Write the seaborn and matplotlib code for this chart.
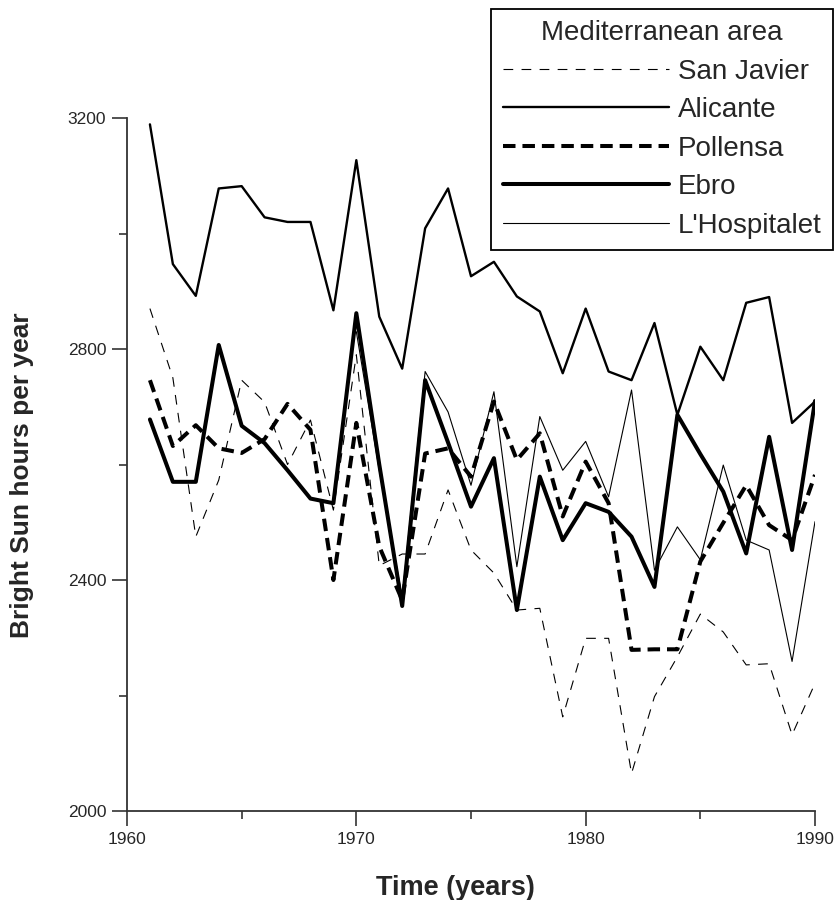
import numpy as np
import pandas as pd
import matplotlib
matplotlib.use("Agg")
import matplotlib.pyplot as plt
import seaborn as sns
from matplotlib.lines import Line2D
from matplotlib.ticker import MultipleLocator

years = list(range(1961, 1991))

san_javier = [2870, 2750, 2475, 2573, 2746, 2708, 2600, 2677, 2521, 2790,
              2425, 2445, 2445, 2556, 2452, 2412, 2348, 2351, 2163, 2299,
              2299, 2065, 2198, 2267, 2341, 2310, 2253, 2255, 2132, 2221]
alicante = [3189, 2947, 2892, 3078, 3082, 3028, 3020, 3020, 2867, 3127,
            2856, 2766, 3009, 3078, 2926, 2951, 2891, 2865, 2758, 2870,
            2761, 2746, 2845, 2686, 2804, 2746, 2880, 2890, 2672, 2709]
pollensa = [2746, 2632, 2668, 2628, 2620, 2644, 2705, 2660, 2400, 2672,
            2458, 2365, 2619, 2628, 2579, 2709, 2608, 2654, 2510, 2605,
            2533, 2279, 2280, 2280, 2432, 2499, 2564, 2495, 2469, 2582]
ebro = [2678, 2570, 2570, 2807, 2667, 2637, 2590, 2541, 2533, 2862,
        2600, 2355, 2746, 2638, 2527, 2611, 2348, 2579, 2469, 2533,
        2518, 2475, 2388, 2686, 2618, 2553, 2446, 2648, 2452, 2710]
hospitalet = [np.nan] * 9 + [2830,
              2590, 2370, 2761, 2691, 2564, 2726, 2423, 2683, 2590, 2640,
              2544, 2729, 2417, 2492, 2435, 2599, 2469, 2452, 2259, 2501]

series_names = ["San Javier", "Alicante", "Pollensa", "Ebro", "L'Hospitalet"]
series_values = [san_javier, alicante, pollensa, ebro, hospitalet]
legend_title = "Mediterranean area"

sns.set_style("white")
plt.rcParams["lines.scale_dashes"] = False
plt.rcParams["font.family"] = ["Liberation Sans", "DejaVu Sans"]

styles = {
    "San Javier": dict(lw=0.8, ls=(0, (7, 6))),
    "Alicante": dict(lw=1.7, ls="-"),
    "Pollensa": dict(lw=2.9, ls=(0, (9, 5))),
    "Ebro": dict(lw=2.9, ls="-"),
    "L'Hospitalet": dict(lw=0.8, ls="-"),
}

fig = plt.figure(figsize=(8.36, 9), dpi=100)
ax = fig.add_axes([127 / 836, 89 / 900, 688 / 836, 693 / 900])

handles = []
for name, vals in zip(series_names, series_values):
    st = styles[name]
    df = pd.DataFrame({"year": years, "value": vals})
    sns.lineplot(data=df, x="year", y="value", ax=ax, color="black",
                 linewidth=st["lw"], linestyle=st["ls"])
    handles.append(Line2D([0], [0], color="black", lw=st["lw"], ls=st["ls"]))

ax.set_xlim(1960, 1990)
ax.set_ylim(2000, 3200)
ax.xaxis.set_major_locator(MultipleLocator(10))
ax.xaxis.set_minor_locator(MultipleLocator(5))
ax.yaxis.set_major_locator(MultipleLocator(400))
ax.yaxis.set_minor_locator(MultipleLocator(200))

for s in ["top", "right"]:
    ax.spines[s].set_visible(False)
for s in ["left", "bottom"]:
    ax.spines[s].set_color("#333333")
    ax.spines[s].set_linewidth(1.3)

ax.tick_params(axis="both", which="both", bottom=True, left=True,
               top=False, right=False)
ax.tick_params(axis="both", which="major", direction="out", length=11,
               width=1.2, color="#333333", labelsize=12.5, pad=4)
ax.tick_params(axis="both", which="minor", direction="out", length=6,
               width=1.2, color="#333333")

ax.set_xlabel("Time (years)", fontsize=19.5, fontweight="bold")
ax.set_ylabel("Bright Sun hours per year", fontsize=19, fontweight="bold")
ax.xaxis.set_label_coords((455 - 127) / 688, -0.092)
ax.yaxis.set_label_coords(-0.135, 0.485)

leg = fig.legend(handles, series_names, title=legend_title,
                 loc="upper right", bbox_to_anchor=(833 / 836, 1 - 9 / 900),
                 borderaxespad=0, fontsize=20, title_fontsize=20,
                 frameon=True, fancybox=False, shadow=False,
                 handlelength=6.0, handletextpad=0.32, labelspacing=0.45,
                 borderpad=0.4)
fr = leg.get_frame()
fr.set_edgecolor("black")
fr.set_linewidth(1.3)
fr.set_facecolor("white")
fr.set_alpha(1)

fig.savefig("out.png", dpi=100, facecolor="white")
